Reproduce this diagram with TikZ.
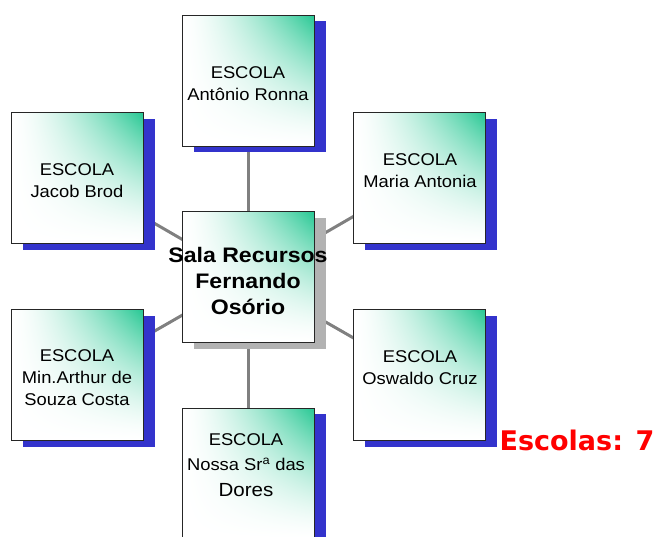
\documentclass[tikz,border=0pt]{standalone}
\usepackage{fontspec}
\setmainfont{Liberation Sans}
\newfontfamily\escfont[FakeStretch=1.08]{Liberation Sans}
\newfontfamily\cntfont[FakeStretch=1.1]{Liberation Sans}
\newfontfamily\redfont{DejaVu Sans}
\usetikzlibrary{shadows,backgrounds}
\definecolor{shblue}{RGB}{51,51,204}
\definecolor{shgray}{RGB}{178,178,178}
\definecolor{conngray}{RGB}{128,128,128}
\definecolor{redtxt}{RGB}{255,0,0}
\pgfdeclarefunctionalshading{escshade}{\pgfpointorigin}{\pgfpoint{100bp}{100bp}}{}{
 25 sub 50 div dup 0 lt {pop 0} if dup 1 gt {pop 1} if
 exch
 25 sub 50 div dup 0 lt {pop 0} if dup 1 gt {pop 1} if
 mul dup sqrt mul
 dup dup
 0.843 mul 1 exch sub
 exch
 0.216 mul 1 exch sub
 3 -1 roll
 0.42 mul 1 exch sub
}
\tikzset{
  box/.style={draw=black!85, line width=1pt, minimum width=132pt, minimum height=131pt, inner sep=0pt,
    shading=escshade},
  bluebox/.style={box, drop shadow={fill=shblue, opacity=1, shadow xshift=12pt, shadow yshift=-6pt}},
  graybox/.style={box, drop shadow={fill=shgray, opacity=1, shadow xshift=12pt, shadow yshift=-6pt}},
  etext/.style={align=center, inner sep=0pt, font=\escfont\fontsize{17}{22}\selectfont},
  ctext/.style={align=center, inner sep=0pt, font=\cntfont\bfseries\fontsize{21}{26}\selectfont},
  conn/.style={draw=conngray, line width=3pt}
}
\begin{document}
\begin{tikzpicture}[x=1pt,y=-1pt]
\useasboundingbox (0,0) rectangle (654,537);
% boxes
\node[bluebox] (top) at (248,81) {};
\node[bluebox] (jacob) at (77,178.5) {};
\node[bluebox] (maria) at (419,178.5) {};
\node[bluebox] (arthur) at (77,375.5) {};
\node[bluebox] (oswaldo) at (419,375.5) {};
\node[bluebox] (nossa) at (248,474) {};
\node[graybox] (center) at (248,277.5) {};
% connectors
\begin{scope}[on background layer]
\draw[conn] (center.center) -- (top.center);
\draw[conn] (center.center) -- (jacob.center);
\draw[conn] (center.center) -- (maria.center);
\draw[conn] (center.center) -- (arthur.center);
\draw[conn] (center.center) -- (oswaldo.center);
\draw[conn] (center.center) -- (nossa.center);
\end{scope}
% texts
\node[etext] (ttop) at (248,84) {ESCOLA\\Antônio Ronna};
\node[etext] (tjacob) at (77,181) {ESCOLA\\Jacob Brod};
\node[etext] (tmaria) at (420,171) {ESCOLA\\Maria Antonia};
\node[etext] (tarthur) at (77,378) {ESCOLA\\Min.Arthur de\\Souza Costa};
\node[etext] (toswaldo) at (420,368) {ESCOLA\\Oswaldo Cruz};
\node[etext, font=\escfont\fontsize{17}{25.5}\selectfont] (tnossa) at (246,465) {ESCOLA\\Nossa Sr\textsuperscript{a} das\\{\fontsize{19}{25.5}\selectfont Dores}};
\node[ctext] (tcenter) at (248,281) {Sala Recursos\\Fernando\\Osório};
\node[font=\redfont\bfseries\fontsize{27}{30}\selectfont, text=redtxt, inner sep=0pt] (esc) at (577,440) {Escolas: 7};
\end{tikzpicture}
\end{document}
